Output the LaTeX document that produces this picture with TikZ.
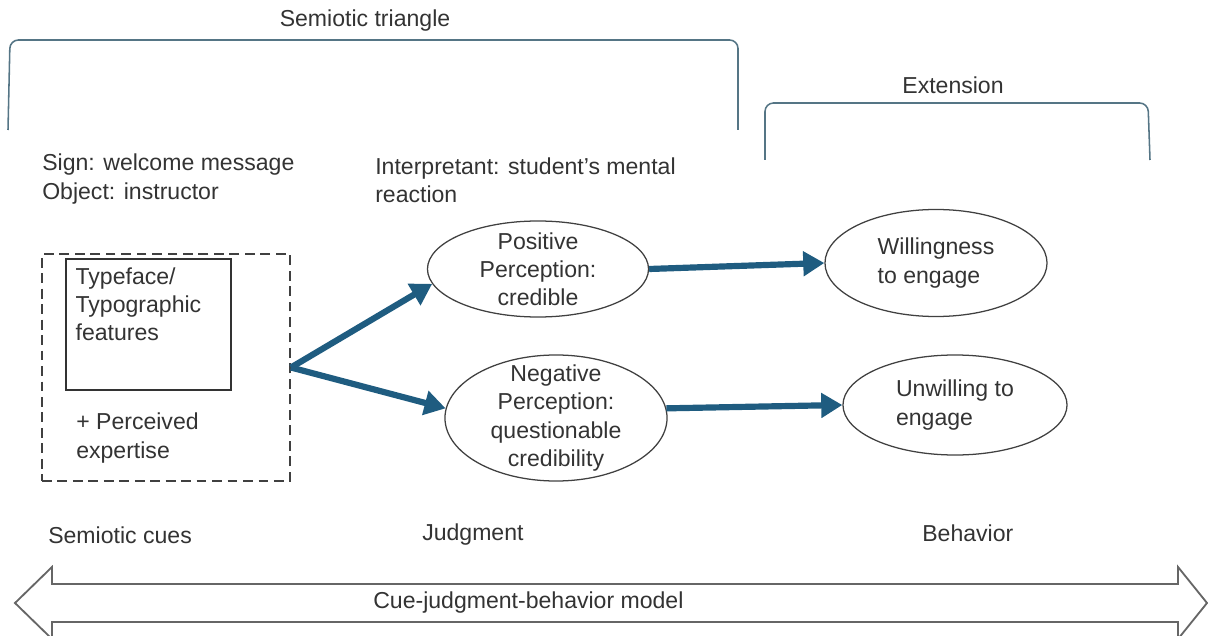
\documentclass[tikz,border=0pt]{standalone}
\usepackage{fontspec}
\setmainfont{Liberation Sans}
\usepackage{xcolor}
\usepackage{tikz}
\usetikzlibrary{shapes.geometric}
\usetikzlibrary{arrows.meta}
\usetikzlibrary{positioning}

\definecolor{flowblue}{HTML}{1F5C80}
\definecolor{bracketgray}{HTML}{557585}
\definecolor{txtgray}{HTML}{333333}

\begin{document}
\begin{tikzpicture}[
  x=0.025cm, y=-0.025cm,
  every node/.style={font=\fontsize{16.4}{20}\selectfont, text=txtgray},
  plain/.style={align=left, inner sep=0pt, anchor=west},
  percept/.style={ellipse, draw=black!75, line width=0.9pt, align=center, inner sep=-8pt},
  flow/.style={flowblue, line width=4.4pt, -{Triangle[length=15pt,width=17pt]}},
  bracket/.style={bracketgray, line width=1.1pt, rounded corners=6pt}
]
\useasboundingbox (0,0) rectangle (1208,636);

% brackets on top
\draw[bracket] (8,130) -- (10,40) -- (738,40) -- (738,130);
\node (semtri) at (365,21) {Semiotic triangle};
\draw[bracket] (765,160) -- (765,103) -- (1148,103) -- (1150,160);
\node (ext) at (953,85) {Extension};

% sign / interpretant text
\node[plain] (sign) at (42,179) {Sign: welcome message\\Object: instructor};
\node[plain] (interp) at (375,180) {Interpretant: student's mental\\reaction};

% cue box
\node[draw=black!75, dashed, dash pattern=on 7pt off 4pt, line width=1.3pt,
      minimum width=6.2cm, minimum height=5.675cm] (cues) at (166,367.5) {};
\node[draw=black!80, line width=0.9pt, minimum width=4.125cm, minimum height=3.275cm] (typo) at (148.5,324.5) {};
\node[plain, below right=0.22cm and 0.25cm of typo.north west] (typotxt) {Typeface/\\Typographic\\features};
\node[plain] (expert) at (76,438) {+ Perceived\\expertise};

% judgment
\node[percept, minimum width=5.525cm, minimum height=2.4cm] (pos) at (538,269) {Positive\\Perception:\\credible};
\node[percept, minimum width=5.55cm, minimum height=3.15cm] (neg) at (556,418) {Negative\\Perception:\\questionable\\credibility};

% behavior
\node[percept, align=left, minimum width=5.55cm, minimum height=2.675cm] (will) at (936,263) {Willingness\\to engage};
\node[percept, align=left, minimum width=5.6cm, minimum height=2.5cm] (unwill) at (955,405) {Unwilling to\\engage};

\draw[flow] (cues.east) -- (pos.188);
\draw[flow] (cues.east) -- (neg.175);
\draw[flow] (pos.east) -- (will.west);
\draw[flow] (neg.5) -- (unwill.west);

% column labels
\node[plain] (cuelbl) at (48,535) {Semiotic cues};
\node[plain] (judglbl) at (422,535) {Judgment};
\node[plain] (behlbl) at (922,533) {Behavior};

% cue-judgment-behavior band
\draw[black!60, line width=1.3pt, fill=white]
  (15,603) -- (52,567) -- (52,584) -- (1178,584) -- (1178,567) -- (1207,603)
  -- (1178,639) -- (1178,622) -- (52,622) -- (52,639) -- cycle;
\node[plain] (model) at (373,603) {Cue-judgment-behavior model};
\end{tikzpicture}
\end{document}
